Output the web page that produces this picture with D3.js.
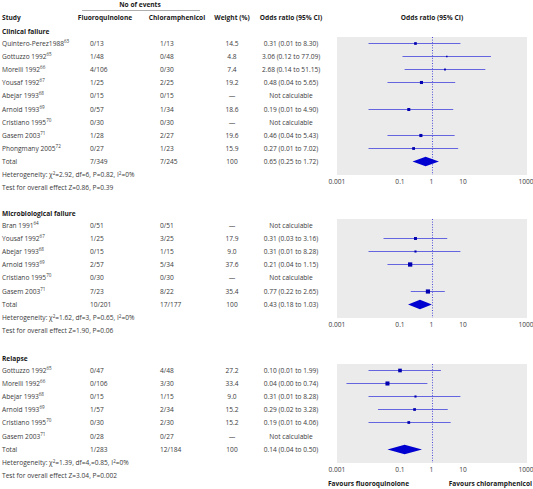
<!DOCTYPE html>
<html><head><meta charset="utf-8">
<script src="https://cdn.jsdelivr.net/npm/d3@7"></script>
<style>
body{margin:0;background:#fff;}
svg text{font-family:"Open Sans",sans-serif;}
</style></head>
<body><svg id="c" width="533" height="489"></svg>
<script>
// ---------- DATA ----------
const sections = ["Clinical failure", "Microbiological failure", "Relapse"];

const clinicalStudies = ["Quintero-Perez1988","Gottuzzo 1992","Morelli 1992","Yousaf 1992","Abejar 1993","Arnold 1993","Cristiano 1995","Gasem 2003","Phongmany 2005"];
const clinicalRefs = ["63","65","66","67","68","69","70","71","72"];
const clinicalFq = ["0/13","1/48","4/106","1/25","0/15","0/57","0/30","1/28","0/27"];
const clinicalCh = ["1/13","0/48","0/30","2/25","0/15","1/34","0/30","2/27","1/23"];
const clinicalWeight = [14.5,4.8,7.4,19.2,null,18.6,null,19.6,15.9];
const clinicalOR = [0.31,3.06,2.68,0.48,null,0.19,null,0.46,0.27];
const clinicalLo = [0.01,0.12,0.14,0.04,null,0.01,null,0.04,0.01];
const clinicalHi = [8.30,77.09,51.15,5.65,null,4.90,null,5.43,7.02];
const clinicalTotal = {fq:"7/349", ch:"7/245", or:0.65, lo:0.25, hi:1.72};
const clinicalHet = ["Heterogeneity: χ","2","=2.92, df=6, P=0.82, I","2","=0%"];
const clinicalTest = "Test for overall effect Z=0.86, P=0.39";

const microStudies = ["Bran 1991","Yousaf 1992","Abejar 1993","Arnold 1993","Cristiano 1995","Gasem 2003"];
const microRefs = ["64","67","68","69","70","71"];
const microFq = ["0/51","1/25","0/15","2/57","0/30","7/23"];
const microCh = ["0/51","3/25","1/15","5/34","0/30","8/22"];
const microWeight = [null,17.9,9.0,37.6,null,35.4];
const microOR = [null,0.31,0.31,0.21,null,0.77];
const microLo = [null,0.03,0.01,0.04,null,0.22];
const microHi = [null,3.16,8.28,1.15,null,2.65];
const microTotal = {fq:"10/201", ch:"17/177", or:0.43, lo:0.18, hi:1.03};
const microHet = ["Heterogeneity: χ","2","=1.62, df=3, P=0.65, I","2","=0%"];
const microTest = "Test for overall effect Z=1.90, P=0.06";

const relapseStudies = ["Gottuzzo 1992","Morelli 1992","Abejar 1993","Arnold 1993","Cristiano 1995","Gasem 2003"];
const relapseRefs = ["65","66","68","69","70","71"];
const relapseFq = ["0/47","0/106","0/15","1/57","0/30","0/28"];
const relapseCh = ["4/48","3/30","1/15","2/34","2/30","0/27"];
const relapseWeight = [27.2,33.4,9.0,15.2,15.2,null];
const relapseOR = [0.10,0.04,0.31,0.29,0.19,null];
const relapseLo = [0.01,0.002,0.01,0.02,0.01,null];
const relapseHi = [1.99,0.74,8.28,3.28,4.06,null];
const relapseTotal = {fq:"1/283", ch:"12/184", or:0.14, lo:0.04, hi:0.50};
const relapseHet = ["Heterogeneity: χ","2","=1.39, df=4,=0.85, I","2","=0%"];
const relapseTest = "Test for overall effect Z=3.04, P=0.002";

const tickValues = [0.001, 0.1, 1, 10, 1000];
const tickLabels = ["0.001","0.1","1","10","1000"];

// ---------- BUILD ----------
function build(names, refs, fq, ch, w, or, lo, hi, total, het, test){
  return {rows: names.map((n,i)=>({name:n, ref:refs[i], fq:fq[i], ch:ch[i], w:w[i], or:or[i], lo:lo[i], hi:hi[i]})), total, het, test};
}
const data = [
  build(clinicalStudies, clinicalRefs, clinicalFq, clinicalCh, clinicalWeight, clinicalOR, clinicalLo, clinicalHi, clinicalTotal, clinicalHet, clinicalTest),
  build(microStudies, microRefs, microFq, microCh, microWeight, microOR, microLo, microHi, microTotal, microHet, microTest),
  build(relapseStudies, relapseRefs, relapseFq, relapseCh, relapseWeight, relapseOR, relapseLo, relapseHi, relapseTotal, relapseHet, relapseTest)
];

const svg = d3.select("#c");
const FS = 6.6;
const txt = "#3a3a3a", bold = "#1a1a1a";
const lineCol = "#6565e0", markCol = "#0000b0", diaCol = "#0000d0";
const firstRows = [42.5, 224.5, 369.5];
const step = 13.2;
const xName = 2, xFq = 90, xCh = 160, xW = 232, xOR = 291;
const x = d3.scaleLog().domain([0.001, 1000]).range([337, 526]);
const panelL = 337, panelR = 527;
const f2 = d3.format(".2f");
const orText = (o,l,h)=> `${f2(o)} (${f2(l)} to ${f2(h)})`;
const SUP = 4.6, SUPDY = 2.6;

function t(xp, yp, s, opts={}){
  return svg.append("text").attr("x", xp).attr("y", yp).attr("dy","0.35em")
    .attr("font-size", opts.fs||FS).attr("font-weight", opts.b?"bold":"normal")
    .attr("fill", opts.b?bold:(opts.c||txt)).attr("text-anchor", opts.a||"start").text(s);
}

// headers
t(140, 5, "No of events", {b:true, a:"middle"});
svg.append("line").attr("x1",82).attr("x2",200).attr("y1",10.5).attr("y2",10.5).attr("stroke","#777").attr("stroke-width",0.6);
t(xName, 18, "Study", {b:true});
t(105, 18, "Fluoroquinolone", {b:true, a:"middle"});
t(177, 18, "Chloramphenicol", {b:true, a:"middle"});
t(xW, 18, "Weight (%)", {b:true, a:"middle"});
t(xOR, 18, "Odds ratio (95% CI)", {b:true, a:"middle"});
t((panelL+panelR)/2, 18, "Odds ratio (95% CI)", {b:true, a:"middle"});

data.forEach((sec, si)=>{
  const y0 = firstRows[si];
  const yRow = i => Math.round(y0 + i*step) + 0.5;
  const n = sec.rows.length;
  const yTot = yRow(n);
  const top = Math.round(y0 - 5.5), bottom = Math.round(yTot + 13.5);

  t(xName, y0 - 11, sections[si], {b:true});

  // panel
  svg.append("rect").attr("x",panelL).attr("y",top).attr("width",panelR-panelL).attr("height",bottom-top).attr("fill","#ebebeb");
  svg.append("line").attr("x1",Math.round(x(1))+0.5).attr("x2",Math.round(x(1))+0.5).attr("y1",top).attr("y2",bottom)
    .attr("stroke","#3a3ad8").attr("stroke-width",0.9).attr("stroke-dasharray","1,1.6");

  sec.rows.forEach((r,i)=>{
    const y = yRow(i);
    const tx = t(xName, y, r.name, {});
    tx.append("tspan").attr("dy",-SUPDY).attr("font-size",SUP).text(r.ref);
    t(xFq, y, r.fq);
    t(xCh, y, r.ch);
    t(xW, y, r.w==null ? "—" : d3.format(".1f")(r.w), {a:"middle"});
    t(xOR, y, r.or==null ? "Not calculable" : orText(r.or, r.lo, r.hi), {a:"middle"});
    if(r.or!=null){
      svg.append("line").attr("x1",x(r.lo)).attr("x2",x(r.hi)).attr("y1",y).attr("y2",y)
        .attr("stroke",lineCol).attr("stroke-width",1);
      const s = 0.7*Math.sqrt(r.w);
      svg.append("rect").attr("x",x(r.or)-s/2).attr("y",y-s/2).attr("width",s).attr("height",s).attr("fill",markCol);
    }
  });
  // total
  t(xName, yTot, "Total");
  t(xFq, yTot, sec.total.fq);
  t(xCh, yTot, sec.total.ch);
  t(xW, yTot, "100", {a:"middle"});
  t(xOR, yTot, orText(sec.total.or, sec.total.lo, sec.total.hi), {a:"middle"});
  const h = 4.7;
  svg.append("path").attr("d",
    `M${x(sec.total.lo)},${yTot} L${x(sec.total.or)},${yTot-h} L${x(sec.total.hi)},${yTot} L${x(sec.total.or)},${yTot+h} Z`)
    .attr("fill",diaCol);

  // heterogeneity
  const het = t(xName, yTot + 13.3, sec.het[0]);
  het.append("tspan").attr("dy",-SUPDY).attr("font-size",SUP).text(sec.het[1]);
  het.append("tspan").attr("dy",SUPDY).text(sec.het[2]);
  het.append("tspan").attr("dy",-SUPDY).attr("font-size",SUP).text(sec.het[3]);
  het.append("tspan").attr("dy",SUPDY).text(sec.het[4]);
  t(xName, yTot + 26.3, sec.test);

  // axis labels
  const ax = svg.append("g").attr("transform",`translate(0,${bottom+6.5})`);
  ax.selectAll("text").data(tickValues).join("text")
    .attr("x", d=>x(d)).attr("dy","0.35em").attr("text-anchor","middle")
    .attr("font-size",FS).attr("fill",txt).text((d,i)=>tickLabels[i]);
});

t(328, 484, "Favours fluoroquinolone", {b:true});
t(532, 484, "Favours chloramphenicol", {b:true, a:"end"});
</script></body></html>
